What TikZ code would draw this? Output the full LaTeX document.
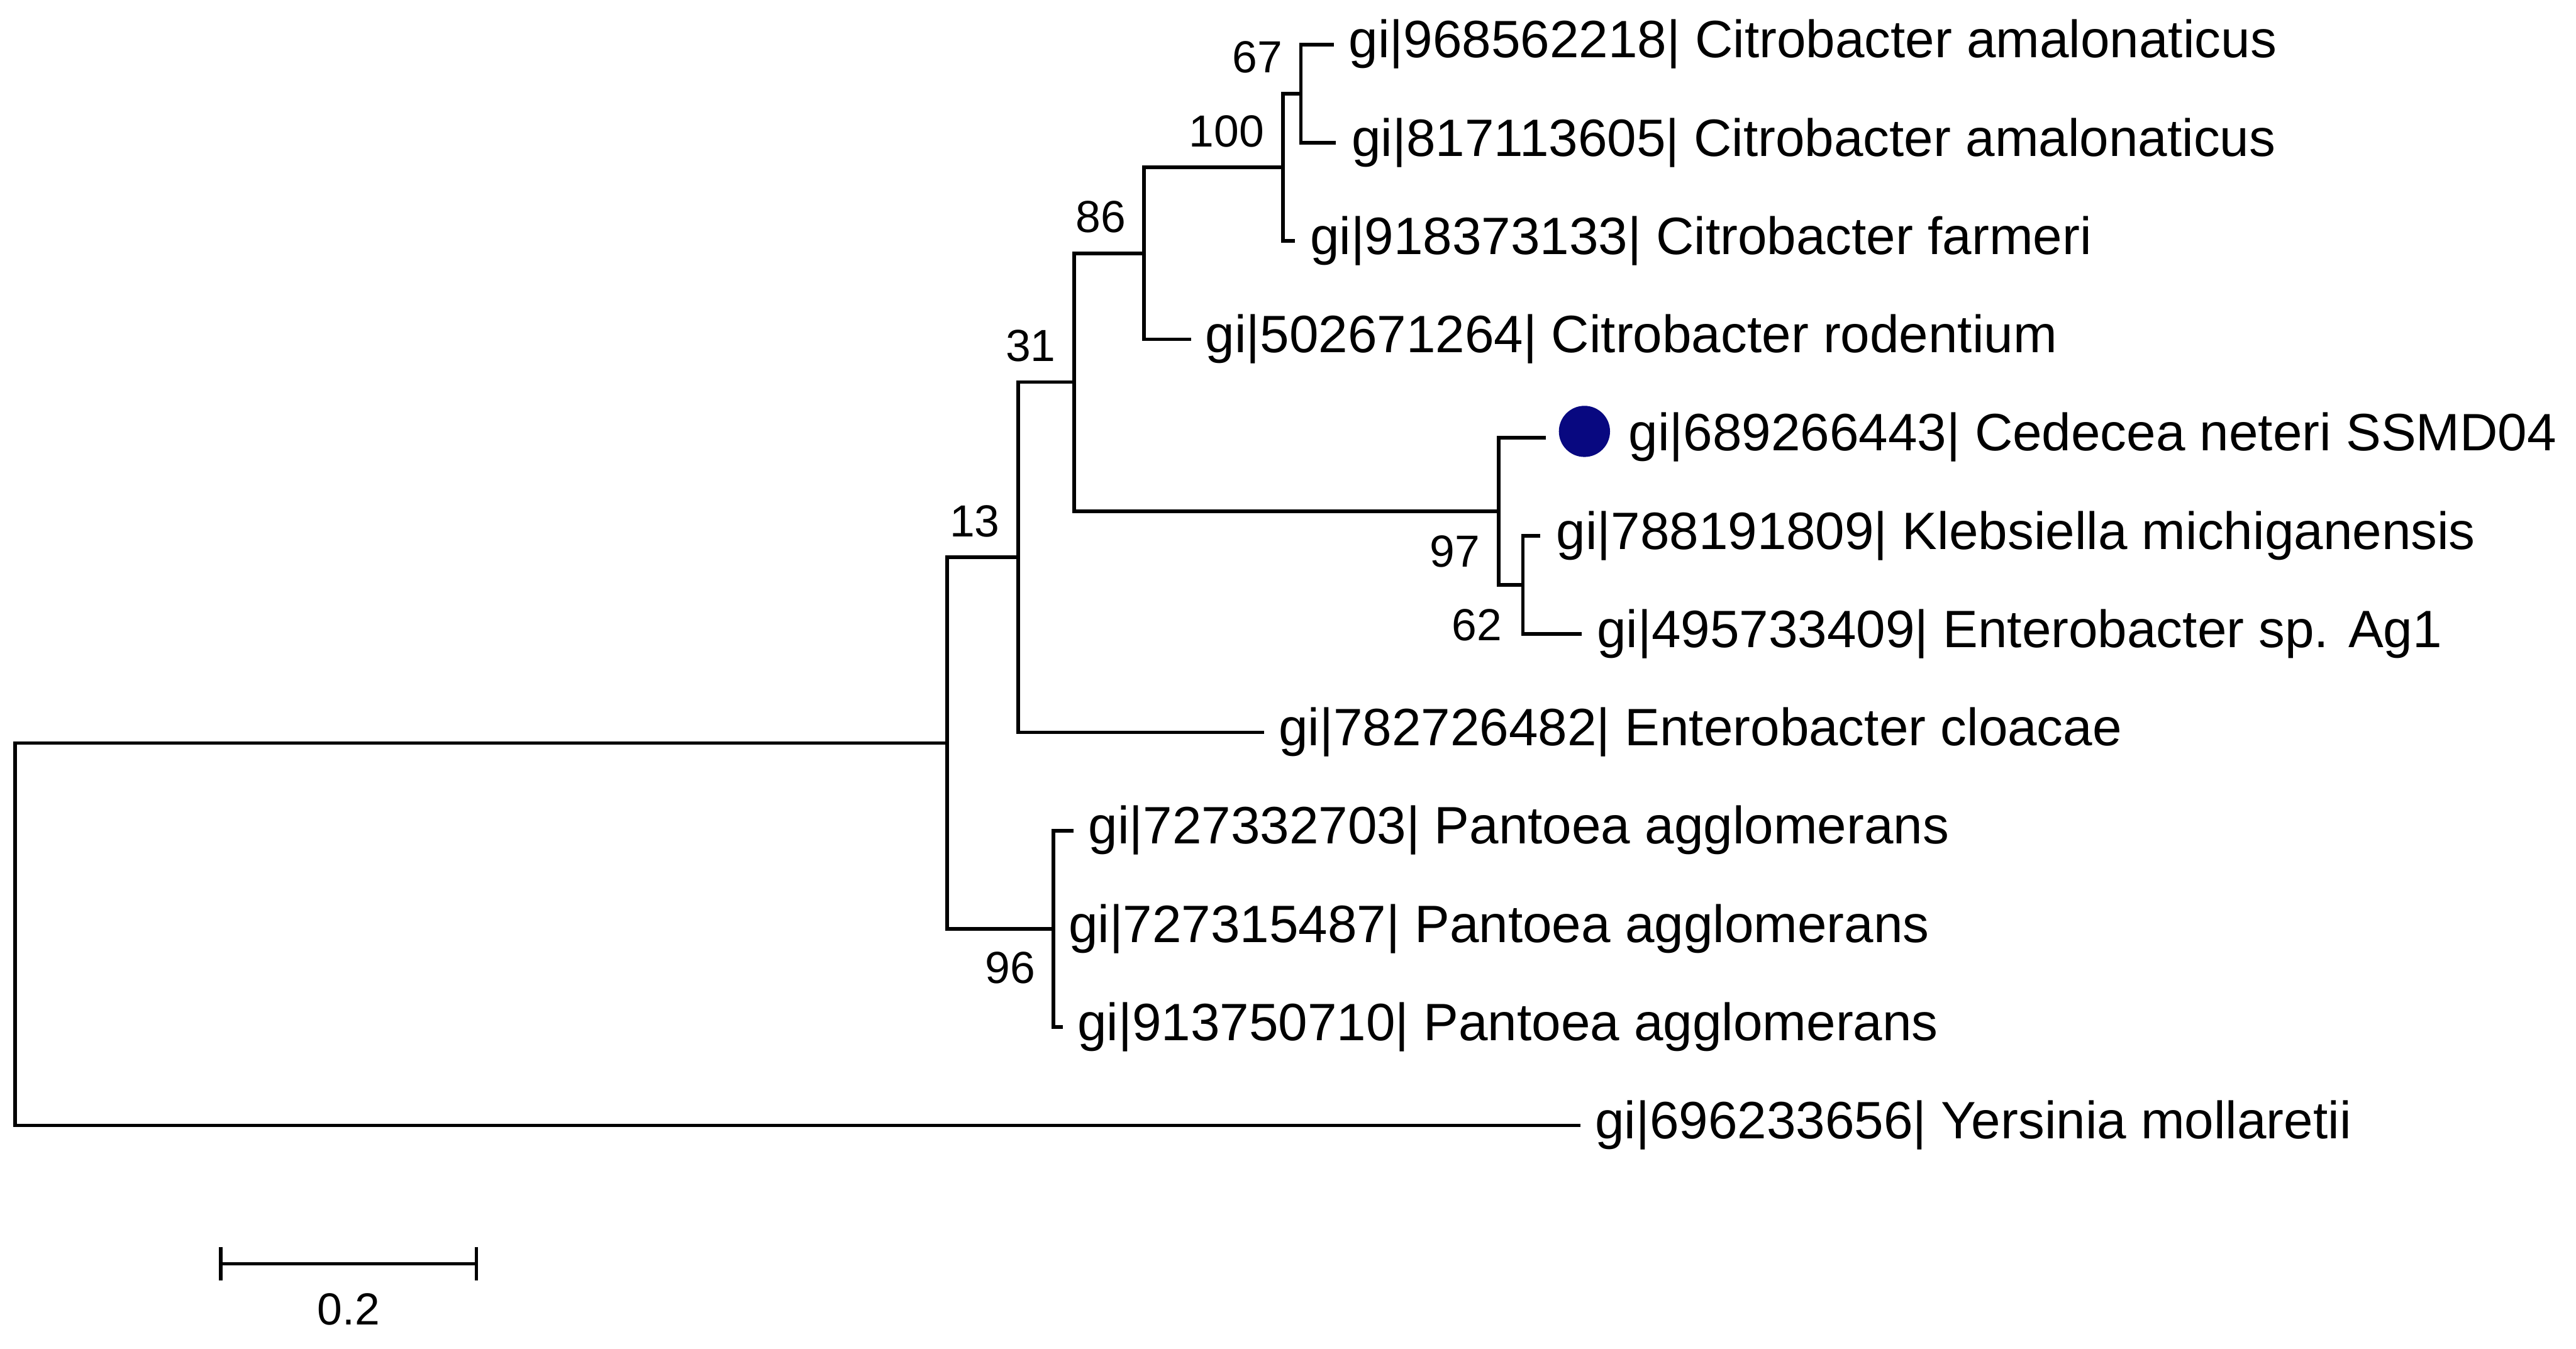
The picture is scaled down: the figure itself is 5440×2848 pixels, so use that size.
\documentclass[tikz,border=0pt]{standalone}
\usepackage{fontspec}
\setmainfont{Liberation Sans}
\definecolor{dotblue}{RGB}{8,8,128}
\begin{document}
\begin{tikzpicture}[x=0.1mm,y=-0.1mm,
  branch/.style={line width=0.75mm, line join=miter, line cap=butt},
  leaf/.style={anchor=base west, inner sep=0pt, font=\fontsize{31.6pt}{38pt}\selectfont},
  boot/.style={anchor=base east, inner sep=0pt, font=\fontsize{27pt}{32pt}\selectfont},
  dotmark/.style={circle, fill=dotblue, inner sep=0pt, minimum size=10.8mm}]
\useasboundingbox (0,0) rectangle (5440,2848);
% internal nodes
\coordinate (root) at (32,1972.75);
\coordinate (nX)  at (2000,1569);
\coordinate (n13) at (2150,1177);
\coordinate (n96) at (2225,1961.5);
\coordinate (n31) at (2268,807);
\coordinate (n86) at (2416,535);
\coordinate (n100) at (2709,353.4);
\coordinate (n67) at (2747,197.75);
\coordinate (n97) at (3165,1079.6);
\coordinate (n62) at (3216,1235);
% leaf ends
\coordinate (l1) at (2817,94);
\coordinate (l2) at (2821,301.5);
\coordinate (l3) at (2734,509);
\coordinate (l4) at (2515,716.5);
\coordinate (l5) at (3265,924);
\coordinate (l6) at (3253,1131.5);
\coordinate (l7) at (3340,1339);
\coordinate (l8) at (2670,1546.5);
\coordinate (l9) at (2267,1754);
\coordinate (l10) at (2227,1961.5);
\coordinate (l11) at (2244,2169);
\coordinate (l12) at (3337,2376.5);
% branches
\draw[branch] (root) |- (nX);
\draw[branch] (root) |- (l12);
\draw[branch] (nX) |- (n13);
\draw[branch] (nX) |- (n96);
\draw[branch] (n13) |- (n31);
\draw[branch] (n13) |- (l8);
\draw[branch] (n31) |- (n86);
\draw[branch] (n31) |- (n97);
\draw[branch] (n86) |- (n100);
\draw[branch] (n86) |- (l4);
\draw[branch] (n100) |- (n67);
\draw[branch] (n100) |- (l3);
\draw[branch] (n67) |- (l1);
\draw[branch] (n67) |- (l2);
\draw[branch] (n97) |- (l5);
\draw[branch] (n97) |- (n62);
\draw[branch] (n62) |- (l6);
\draw[branch] (n62) |- (l7);
\draw[branch] (n96) |- (l9);
\draw[branch] (n96) -- (l10);
\draw[branch] (n96) |- (l11);
% marker
\node[dotmark] (mark5) at (3346,911) {};
% leaf labels
\node[leaf] (t1) at (2848,122) {gi|968562218| Citrobacter amalonaticus};
\node[leaf] (t2) at (2854,329.5) {gi|817113605| Citrobacter amalonaticus};
\node[leaf] (t3) at (2766,537) {gi|918373133| Citrobacter farmeri};
\node[leaf] (t4) at (2545,744.5) {gi|502671264| Citrobacter rodentium};
\node[leaf] (t5) at (3439,952) {gi|689266443| Cedecea neteri SSMD04};
\node[leaf] (t6) at (3286,1159.5) {gi|788191809| Klebsiella michiganensis};
\node[leaf] (t7) at (3372,1367) {gi|495733409| Enterobacter sp. Ag1};
\node[leaf] (t8) at (2700,1574.5) {gi|782726482| Enterobacter cloacae};
\node[leaf] (t9) at (2298,1782) {gi|727332703| Pantoea agglomerans};
\node[leaf] (t10) at (2256,1989.5) {gi|727315487| Pantoea agglomerans};
\node[leaf] (t11) at (2275,2197) {gi|913750710| Pantoea agglomerans};
\node[leaf] (t12) at (3368,2404.5) {gi|696233656| Yersinia mollaretii};
% bootstrap values
\node[boot] (b67) at (2709,153) {67};
\node[boot] (b100) at (2670,310) {100};
\node[boot] (b86) at (2378,491) {86};
\node[boot] (b31) at (2230,763) {31};
\node[boot] (b13) at (2112,1133) {13};
\node[boot] (b97) at (3126,1197) {97};
\node[boot] (b62) at (3172,1353) {62};
\node[boot] (b96) at (2187,2077) {96};
% scale bar
\coordinate (sbL) at (466,2669);
\coordinate (sbR) at (1006,2669);
\coordinate (sbLt) at (466,2633);
\coordinate (sbLb) at (466,2704);
\coordinate (sbRt) at (1006,2633);
\coordinate (sbRb) at (1006,2704);
\draw[branch] (sbL) -- (sbR);
\draw[branch] (sbLt) -- (sbLb);
\draw[branch] (sbRt) -- (sbRb);
\node[boot, anchor=base] (sblab) at (736,2797) {0.2};
\end{tikzpicture}
\end{document}
